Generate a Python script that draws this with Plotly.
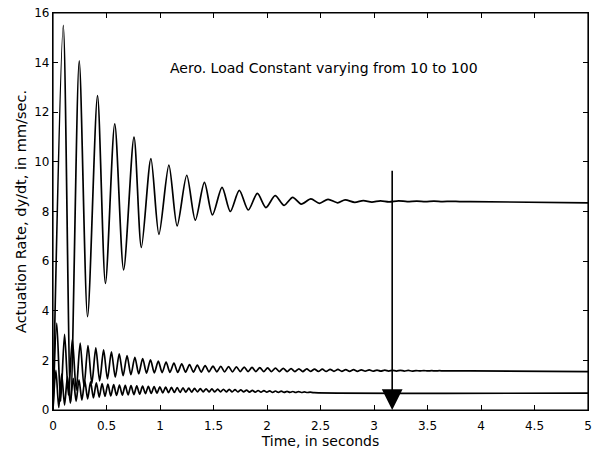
import plotly.graph_objects as go

# Load constant 10 (top curve): alternating extrema
k10_t = [0.0, 0.096, 0.165, 0.245, 0.323, 0.416, 0.49, 0.577, 0.66, 0.757, 0.826,
         0.915, 0.99, 1.083, 1.16, 1.25, 1.33, 1.415, 1.49, 1.58, 1.657, 1.741,
         1.825, 1.91, 1.99, 2.076, 2.16, 2.24, 2.32, 2.41, 2.49, 2.57, 2.66, 2.73,
         2.82, 2.9, 2.98, 3.06, 3.14, 3.23, 3.31, 3.4, 3.48, 3.56, 3.64, 3.72,
         3.8, 3.9, 5.0]
k10_y = [0.0, 15.5, 0.3, 14.07, 3.76, 12.67, 5.1, 11.53, 5.65, 11.0, 6.55,
         10.13, 7.08, 9.87, 7.42, 9.46, 7.65, 9.17, 7.86, 8.97, 8.0, 8.85,
         8.06, 8.73, 8.16, 8.64, 8.25, 8.57, 8.3, 8.51, 8.33, 8.49, 8.35, 8.47,
         8.37, 8.44, 8.38, 8.43, 8.39, 8.43, 8.4, 8.42, 8.4, 8.42, 8.4, 8.41,
         8.4, 8.4, 8.35]

# middle curve
k50_t = [0.0, 0.035, 0.071, 0.108, 0.144, 0.181, 0.217, 0.254, 0.29, 0.327,
         0.363, 0.4, 0.436, 0.473, 0.509, 0.546, 0.582, 0.619, 0.655, 0.692,
         0.728, 0.765, 0.801, 0.838, 0.874, 0.911, 0.947, 0.984, 1.02, 1.057,
         1.093, 1.13, 1.166, 1.203, 1.239, 1.276, 1.312, 1.349, 1.385, 1.422,
         1.458, 1.495, 1.531, 1.568, 1.604, 1.641, 1.677, 1.714, 1.75, 1.787,
         1.823, 1.86, 1.896, 1.933, 1.969, 2.006, 2.042, 2.079, 2.115, 2.152,
         2.188, 2.225, 2.261, 2.298, 2.334, 2.371, 2.407, 2.444, 2.48, 2.517,
         2.553, 2.59, 2.626, 2.663, 2.699, 2.736, 2.772, 2.809, 2.845, 2.882,
         2.918, 2.955, 2.991, 3.028, 3.064, 3.101, 3.137, 3.174, 3.21, 3.247,
         3.283, 3.32, 3.356, 3.393, 3.429, 3.466, 3.502, 3.539, 3.575, 3.612,
         3.648, 3.685, 3.721, 3.758, 3.9, 5.0]
k50_y = [0.0, 3.5, 0.35, 3.05, 0.6, 2.85, 0.8, 2.7, 0.95, 2.6,
         1.07, 2.5, 1.17, 2.42, 1.25, 2.34, 1.32, 2.26, 1.38, 2.19,
         1.42, 2.12, 1.46, 2.07, 1.49, 2.02, 1.5, 1.97, 1.51, 1.93,
         1.52, 1.89, 1.52, 1.86, 1.53, 1.83, 1.53, 1.81, 1.53, 1.79,
         1.54, 1.77, 1.54, 1.76, 1.54, 1.75, 1.54, 1.74, 1.55, 1.73,
         1.55, 1.72, 1.55, 1.71, 1.55, 1.7, 1.55, 1.69, 1.55, 1.68,
         1.55, 1.67, 1.55, 1.66, 1.55, 1.655, 1.555, 1.65, 1.555, 1.645,
         1.555, 1.64, 1.56, 1.635, 1.56, 1.63, 1.56, 1.625, 1.56, 1.62,
         1.565, 1.615, 1.565, 1.61, 1.565, 1.605, 1.57, 1.6, 1.57, 1.6,
         1.57, 1.595, 1.57, 1.59, 1.575, 1.59, 1.575, 1.585, 1.575, 1.585,
         1.575, 1.58, 1.575, 1.58, 1.575, 1.55]

# bottom curve
k100_t = [0.0, 0.027, 0.054, 0.081, 0.108, 0.135, 0.162, 0.189, 0.216, 0.243,
          0.27, 0.297, 0.324, 0.351, 0.378, 0.405, 0.432, 0.459, 0.486, 0.513,
          0.54, 0.567, 0.594, 0.621, 0.648, 0.675, 0.702, 0.729, 0.756, 0.783,
          0.81, 0.837, 0.864, 0.891, 0.918, 0.945, 0.972, 0.999, 1.026, 1.053,
          1.08, 1.107, 1.134, 1.161, 1.188, 1.215, 1.242, 1.269, 1.296, 1.323,
          1.35, 1.377, 1.404, 1.431, 1.458, 1.485, 1.512, 1.539, 1.566, 1.593,
          1.62, 1.647, 1.674, 1.701, 1.728, 1.755, 1.782, 1.809, 1.836, 1.863,
          1.89, 1.917, 1.944, 1.971, 1.998, 2.025, 2.052, 2.079, 2.106, 2.133,
          2.16, 2.187, 2.214, 2.241, 2.268, 2.295, 2.322, 2.349, 2.376, 2.403,
          2.44, 5.0]
k100_y = [0.0, 1.6, 0.1, 1.45, 0.2, 1.35, 0.28, 1.28, 0.35, 1.22,
          0.4, 1.17, 0.45, 1.13, 0.49, 1.09, 0.52, 1.06, 0.55, 1.04,
          0.57, 1.02, 0.59, 1.0, 0.6, 0.99, 0.61, 0.98, 0.62, 0.97,
          0.64, 0.96, 0.66, 0.95, 0.67, 0.94, 0.68, 0.93, 0.69, 0.92,
          0.7, 0.91, 0.71, 0.9, 0.71, 0.89, 0.72, 0.88, 0.72, 0.87,
          0.73, 0.86, 0.73, 0.855, 0.73, 0.85, 0.73, 0.84, 0.73, 0.835,
          0.73, 0.83, 0.73, 0.82, 0.73, 0.81, 0.73, 0.8, 0.72, 0.79,
          0.72, 0.785, 0.72, 0.78, 0.72, 0.77, 0.71, 0.765, 0.71, 0.76,
          0.71, 0.75, 0.71, 0.745, 0.705, 0.74, 0.705, 0.73, 0.705, 0.72,
          0.7, 0.68]

arrow_x = 3.17
arrow_top = 9.7

X_RANGE = [0, 5]
Y_RANGE = [0, 16]

FONT = "DejaVu Sans, Liberation Sans, Arial, sans-serif"

fig = go.Figure()
for t, y in [(k10_t, k10_y), (k50_t, k50_y), (k100_t, k100_y)]:
    fig.add_trace(go.Scatter(
        x=t, y=y, mode="lines",
        line=dict(color="black", width=1.7, shape="spline", smoothing=0.8),
        showlegend=False, hoverinfo="skip"
    ))

# empty trace so the top/right frame axes get drawn
fig.add_trace(go.Scatter(x=[], y=[], xaxis="x2", yaxis="y2",
                         showlegend=False, hoverinfo="skip"))

# downward arrow
fig.add_annotation(
    x=arrow_x, y=0, ax=arrow_x, ay=arrow_top,
    xref="x", yref="y", axref="x", ayref="y",
    text="", showarrow=True, arrowhead=2, arrowsize=2.6, arrowwidth=1.6,
    arrowcolor="black"
)
fig.add_annotation(
    x=2.53, y=13.8, xref="x", yref="y", showarrow=False,
    text="Aero. Load Constant varying from 10 to 100",
    font=dict(family=FONT, size=14, color="black")
)

# plot frame
fig.add_shape(type="rect", xref="paper", yref="paper", x0=0, y0=0, x1=1, y1=1,
              line=dict(color="black", width=1.2), layer="above")

axis_style = dict(
    showline=True, linecolor="black", linewidth=1.2,
    ticks="inside", ticklen=5, tickwidth=1, tickcolor="black",
    showgrid=False, zeroline=False, automargin=False,
    ticklabeloverflow="allow",
    tickfont=dict(family=FONT, size=12, color="black"),
)
fig.update_layout(
    xaxis=dict(range=X_RANGE, dtick=0.5, tick0=0, ticklabelstandoff=4,
               title=dict(text="Time, in seconds", standoff=4,
                          font=dict(family=FONT, size=14, color="black")),
               **axis_style),
    yaxis=dict(range=Y_RANGE, dtick=2, tick0=0,
               title=dict(text="Actuation Rate, dy/dt, in mm/sec.", standoff=4,
                          font=dict(family=FONT, size=14.5, color="black")),
               **axis_style),
    xaxis2=dict(range=X_RANGE, dtick=0.5, tick0=0, side="top",
                overlaying="x", showticklabels=False, **axis_style),
    yaxis2=dict(range=Y_RANGE, dtick=2, tick0=0, side="right",
                overlaying="y", showticklabels=False, **axis_style),
    width=592, height=455,
    margin=dict(l=53, r=4, t=13, b=45),
    plot_bgcolor="white", paper_bgcolor="white",
    font=dict(family=FONT, color="black"),
)

# drop the default page margin so the figure sits at the window's corner
fig.write_html(
    "out.html",
    config={"displayModeBar": False},
    post_script="document.body.style.margin='0';document.body.style.overflow='hidden';"
)
